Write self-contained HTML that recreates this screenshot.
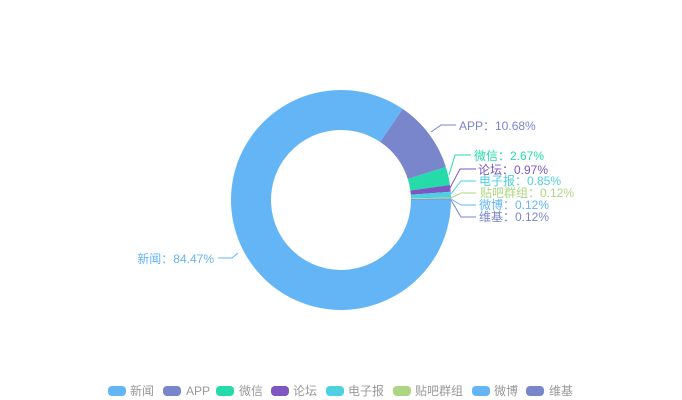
<!DOCTYPE html>
<html><head><meta charset="utf-8"><style>
html,body{margin:0;padding:0;background:#fff;}
svg{display:block;}
text{font-family:"Liberation Sans","Noto Sans CJK SC",sans-serif;font-size:12px;}
</style></head><body>
<svg width="682" height="400" viewBox="0 0 682 400">
<path d="M451,200 A110,110 0 1,1 402.7,108.9 L380.2,142.0 A70,70 0 1,0 411,200 Z" fill="#64b5f6"/>
<path d="M402.7,108.9 A110,110 0 0,1 445.9,167.0 L407.8,179.0 A70,70 0 0,0 380.2,142.0 Z" fill="#7986cb"/>
<path d="M445.9,167.0 A110,110 0 0,1 450.0,185.0 L410.3,190.5 A70,70 0 0,0 407.8,179.0 Z" fill="#26dbaa"/>
<path d="M450.0,185.0 A110,110 0 0,1 450.7,191.7 L410.8,194.7 A70,70 0 0,0 410.3,190.5 Z" fill="#7e57c2"/>
<path d="M450.7,191.7 A110,110 0 0,1 451,197.5 L411,198.4 A70,70 0 0,0 410.8,194.7 Z" fill="#4dd0e1"/>
<path d="M451,197.5 L451,198.4 L411,198.95 L411,198.4 Z" fill="#aed581"/>
<path d="M451,198.4 L451,199.2 L411,199.5 L411,198.95 Z" fill="#64b5f6"/>
<path d="M451,199.2 L451,200 L411,200 L411,199.5 Z" fill="#7986cb"/>
<g fill="none" stroke-width="1">
<polyline points="431,132 441,125 456,125" stroke="#7986cb"/>
<polyline points="449,175 455,155 471,155" stroke="#26dbaa"/>
<polyline points="450,188 460,169 476,169" stroke="#7e57c2"/>
<polyline points="451,194 461,181 476,181" stroke="#4dd0e1"/>
<polyline points="451,198 461,193 476,193" stroke="#aed581"/>
<polyline points="451,199 461,205 476,205" stroke="#64b5f6"/>
<polyline points="451,200 461,217 476,217" stroke="#7986cb"/>
<polyline points="238,253 232,258 218,258" stroke="#64b5f6"/>
</g>
<g dominant-baseline="central">
<text x="459" y="126" fill="#7986cb">APP：10.68%</text>
<text x="474" y="156" fill="#26dbaa">微信：2.67%</text>
<text x="478" y="170" fill="#7e57c2">论坛：0.97%</text>
<text x="479" y="181" fill="#4dd0e1">电子报：0.85%</text>
<text x="480" y="193" fill="#aed581">贴吧群组：0.12%</text>
<text x="479" y="205" fill="#64b5f6">微博：0.12%</text>
<text x="479" y="217" fill="#7986cb">维基：0.12%</text>
<text x="214" y="259" fill="#64b5f6" text-anchor="end">新闻：84.47%</text>
</g>
<g>
<rect x="108" y="386" width="18" height="10" rx="4" fill="#64b5f6"/>
<rect x="163" y="386" width="18" height="10" rx="4" fill="#7986cb"/>
<rect x="216" y="386" width="18" height="10" rx="4" fill="#26dbaa"/>
<rect x="271" y="386" width="18" height="10" rx="4" fill="#7e57c2"/>
<rect x="326" y="386" width="18" height="10" rx="4" fill="#4dd0e1"/>
<rect x="393" y="386" width="18" height="10" rx="4" fill="#aed581"/>
<rect x="472" y="386" width="18" height="10" rx="4" fill="#64b5f6"/>
<rect x="526" y="386" width="18" height="10" rx="4" fill="#7986cb"/>
</g>
<g fill="#999" dominant-baseline="central">
<text x="130" y="391">新闻</text>
<text x="186" y="391">APP</text>
<text x="239" y="391">微信</text>
<text x="293" y="391">论坛</text>
<text x="348" y="391">电子报</text>
<text x="415" y="391">贴吧群组</text>
<text x="494" y="391">微博</text>
<text x="549" y="391">维基</text>
</g>
</svg>
</body></html>
